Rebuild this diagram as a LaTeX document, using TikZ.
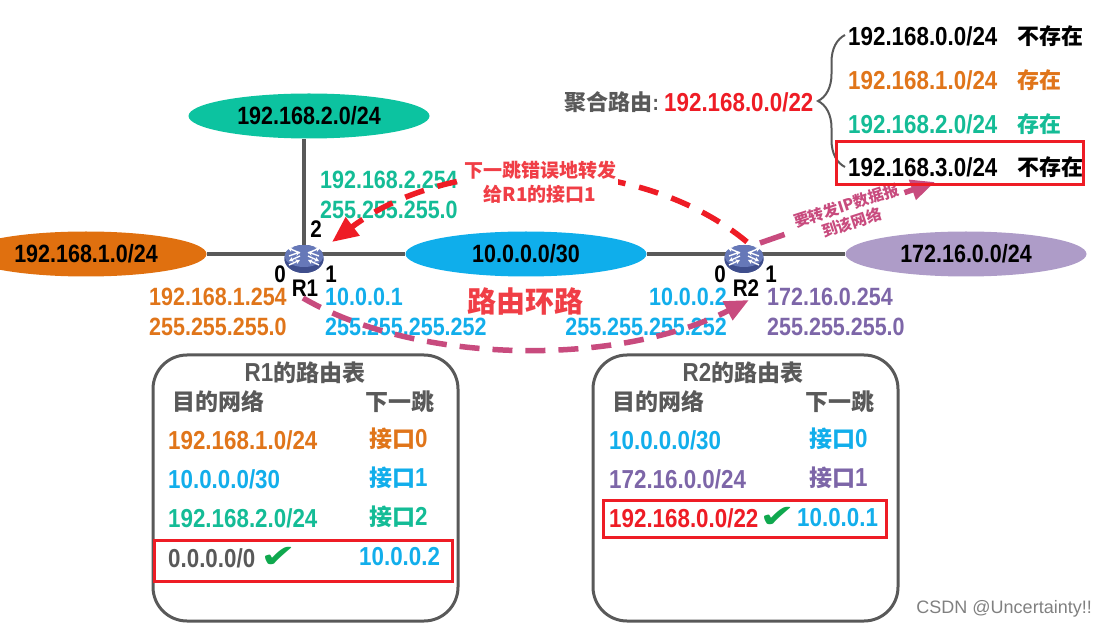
\documentclass[tikz,border=0pt]{standalone}
\usepackage{fontspec}
\usepackage{graphicx}
\setmainfont[FakeStretch=0.86]{Liberation Sans}
\newfontfamily\cjkfont{Noto Sans CJK SC}
\newfontfamily\symfont{DejaVu Sans}
\newfontfamily\markfont{Liberation Sans}
\usetikzlibrary{shapes.geometric,arrows.meta,decorations.pathreplacing}
\definecolor{netteal}{HTML}{0CC3A0}
\definecolor{netorange}{HTML}{E0700F}
\definecolor{netblue}{HTML}{0FAEEB}
\definecolor{netpurple}{HTML}{AE9CC8}
\definecolor{txtteal}{HTML}{14BC96}
\definecolor{txtorange}{HTML}{E0751A}
\definecolor{txtblue}{HTML}{12AEEB}
\definecolor{txtpurple}{HTML}{7D66A8}
\definecolor{txtgray}{HTML}{595959}
\definecolor{alertred}{HTML}{EE1C25}
\definecolor{looppink}{HTML}{C84B7E}
\definecolor{routertop}{HTML}{6678B8}
\definecolor{routerbase}{HTML}{3F4E8C}
\definecolor{tickgreen}{HTML}{0FA84E}
\newcommand{\sz}[1]{\fontsize{#1}{#1}\selectfont\bfseries}
\newcommand{\cn}[1]{{\cjkfont\fontsize{23}{23}\selectfont #1}}
\begin{document}
\begin{tikzpicture}[x=1pt,y=-1pt,
    net/.style={draw=none, ellipse, minimum width=241pt, minimum height=45pt, inner sep=0pt, font=\sz{25}},
    router/.style={ellipse, fill=routerbase, minimum width=39pt, minimum height=28pt, inner sep=0pt},
    wire/.style={draw=txtgray, line width=3.5pt},
    addr/.style={anchor=west, inner sep=0pt, align=left, font=\fontsize{25}{30.5}\selectfont\bfseries},
    port/.style={inner sep=0pt, font=\sz{24}},
    cell/.style={anchor=west, inner sep=0pt, font=\sz{26}},
    zhhead/.style={inner sep=0pt, text=txtgray, font=\cjkfont\fontsize{23}{23}\selectfont\bfseries},
    zhnote/.style={anchor=west, inner sep=0pt, font=\cjkfont\fontsize{22}{22}\selectfont\bfseries},
    tbl/.style={draw=txtgray, line width=3pt, rounded corners=34pt},
    hit/.style={draw=alertred, line width=3pt},
    tick/.style={inner sep=0pt, text=tickgreen, font=\symfont\fontsize{32}{32}\selectfont},
    glyph/.style={white, line width=1.4pt, -{Stealth[length=4.5pt,width=5pt]}},
    badhop/.style={-{Triangle[length=26pt,width=22pt]}, draw=alertred, line width=5.5pt, dash pattern=on 20pt off 14pt},
    loopline/.style={-{Triangle[length=24pt,width=20pt]}, draw=looppink, line width=5.5pt, dash pattern=on 20pt off 13pt}
]
\clip (0,0) rectangle (1106,628);

% networks
\node[net, fill=netteal]   (lan2) at (309,116) {192.168.2.0/24};
\node[net, fill=netorange] (lan1) at (86,254)  {192.168.1.0/24};
\node[net, fill=netblue]   (core) at (526,254) {10.0.0.0/30};
\node[net, fill=netpurple] (lan3) at (966,254) {172.16.0.0/24};

% routers
\node[router] (R1) at (304,259) {};
\node[router] (R2) at (744,259) {};
\draw[wire] (lan1) -- (R1 |- lan1);
\draw[wire] (R1 |- core) -- (core);
\draw[wire] (core) -- (R2 |- core);
\draw[wire] (R2 |- lan3) -- (lan3);
\draw[wire] (R1 |- core) -- (R1 |- lan2.south);
\foreach \r in {R1,R2} {
  \node[router] at (\r) {};
  \fill[routertop] ([yshift=3pt]\r.center) ellipse (19.5pt and 11pt);
  \draw[glyph] ([shift={(-4,-6)}]\r.center) -- ++(-12,-5);
  \draw[glyph] ([shift={(-15,-3)}]\r.center) -- ++(11,-4);
  \draw[glyph] ([shift={(4,-6)}]\r.center) -- ++(12,-5);
  \draw[glyph] ([shift={(15,-3)}]\r.center) -- ++(-11,-4);
  \draw[glyph] ([shift={(-4,-3)}]\r.center) -- ++(-11,5);
  \draw[glyph] ([shift={(-15,6)}]\r.center) -- ++(11,-5);
  \draw[glyph] ([shift={(4,-3)}]\r.center) -- ++(11,5);
  \draw[glyph] ([shift={(15,6)}]\r.center) -- ++(-11,-5);
}

\node[port] (p12) at (316,229) {2};
\node[port] (p10) at (280,274) {0};
\node[port] (p11) at (331,274) {1};
\node[port] (nameR1) at (305,288) {R1};
\node[port] (p20) at (720,274) {0};
\node[port] (p21) at (771,274) {1};
\node[port] (nameR2) at (746,288) {R2};

% interface addresses
\node[addr, text=txtteal]   (ifR12) at (320,195) {192.168.2.254\\255.255.255.0};
\node[addr, text=txtorange] (ifR10) at (149,312) {192.168.1.254\\255.255.255.0};
\node[addr, text=txtblue]   (ifR11) at (325,312) {10.0.0.1\\255.255.255.252};
\node[addr, text=txtblue, anchor=east, align=right] (ifR20) at (727,312) {10.0.0.2\\255.255.255.252};
\node[addr, text=txtpurple] (ifR21) at (767,312) {172.16.0.254\\255.255.255.0};

% routing loop
\coordinate (badstart) at (747,242);
\coordinate (badend)   at (332,242);
\coordinate (loopstart) at (303,298);
\coordinate (loopend)   at (749,300);
\coordinate (sendstart) at (760,243);
\coordinate (sendend)   at (935,182);
\draw[badhop] (badstart) .. controls (640,153) and (450,153) .. (badend);
\draw[loopline] (loopstart) .. controls (420,366) and (620,366) .. (loopend);
\draw[loopline, dash pattern=on 26pt off 127pt on 40pt] (sendstart) -- (sendend);
\node[fill=white, inner sep=2pt, align=center, text=alertred!85!white, font=\cjkfont\fontsize{19}{24}\selectfont\bfseries] (badnote) at (540,182) {下一跳错误地转发\\给R1的接口1};
\node[inner sep=1pt, align=center, rotate=18, text=looppink, font=\cjkfont\fontsize{15.5}{18}\selectfont\bfseries] (sendnote) at (849,214) {要转发IP数据报\\到该网络};
\node[inner sep=0pt, text=alertred!85!white, font=\cjkfont\fontsize{29}{29}\selectfont\bfseries] (loopnote) at (525,301) {路由环路};

% summary route
\node[anchor=east, inner sep=0pt, text=txtgray, font=\sz{22}] (sumtag) at (659,102) {{\cjkfont 聚合路由}:};
\node[cell, text=alertred] (sumnet) at (664,102) {192.168.0.0/22};
\draw[draw=txtgray, line width=2pt, decorate, decoration={brace, amplitude=27pt}] (845,167) -- (845,35);
\node[cell] (s0) at (848,36) {192.168.0.0/24};
\node[zhnote] (s0t) at (1017,36) {不存在};
\node[cell, text=txtorange] (s1) at (848,80) {192.168.1.0/24};
\node[zhnote, text=txtorange] (s1t) at (1017,80) {存在};
\node[cell, text=txtteal] (s2) at (848,124) {192.168.2.0/24};
\node[zhnote, text=txtteal] (s2t) at (1017,124) {存在};
\node[cell] (s3) at (848,167) {192.168.3.0/24};
\node[zhnote] (s3t) at (1017,167) {不存在};
\draw[hit] (836,142) rectangle (1083,185);

% table of R1
\draw[tbl] (153,355) rectangle (458,621);
\node[inner sep=0pt, text=txtgray, font=\sz{26}] (t1title) at (305,373) {R1\cn{的路由表}};
\node[zhhead] (t1dst) at (218,402) {目的网络};
\node[zhhead] (t1hop) at (400,402) {下一跳};
\node[cell, text=txtorange] (a1) at (168,440) {192.168.1.0/24};
\node[cell, text=txtorange] (b1) at (369,439) {\cn{接口}0};
\node[cell, text=txtblue] (a2) at (168,479) {10.0.0.0/30};
\node[cell, text=txtblue] (b2) at (369,478) {\cn{接口}1};
\node[cell, text=txtteal] (a3) at (168,518) {192.168.2.0/24};
\node[cell, text=txtteal] (b3) at (369,517) {\cn{接口}2};
\node[cell, text=txtgray] (a4) at (168,558) {0.0.0.0/0};
\node[tick] (c4) at (279,557) {\scalebox{1.35}[1]{✔}};
\node[cell, text=txtblue] (b4) at (359,557) {10.0.0.2};
\draw[hit] (154,540) rectangle (452,581);

% table of R2
\draw[tbl] (593,355) rectangle (898,621);
\node[inner sep=0pt, text=txtgray, font=\sz{26}] (t2title) at (743,373) {R2\cn{的路由表}};
\node[zhhead] (t2dst) at (658,402) {目的网络};
\node[zhhead] (t2hop) at (840,402) {下一跳};
\node[cell, text=txtblue] (d1) at (609,440) {10.0.0.0/30};
\node[cell, text=txtblue] (e1) at (809,439) {\cn{接口}0};
\node[cell, text=txtpurple] (d2) at (609,479) {172.16.0.0/24};
\node[cell, text=txtpurple] (e2) at (809,478) {\cn{接口}1};
\node[cell, text=alertred] (d3) at (609,518) {192.168.0.0/22};
\node[tick] (f3) at (778,517) {\scalebox{1.35}[1]{✔}};
\node[cell, text=txtblue] (e3) at (797,518) {10.0.0.1};
\draw[hit] (603,500) rectangle (886,537);

\node[anchor=east, inner sep=0pt, text=black!50, font=\markfont\fontsize{18}{18}\selectfont] (mark) at (1092,609) {CSDN @Uncertainty!!};
\end{tikzpicture}
\end{document}
